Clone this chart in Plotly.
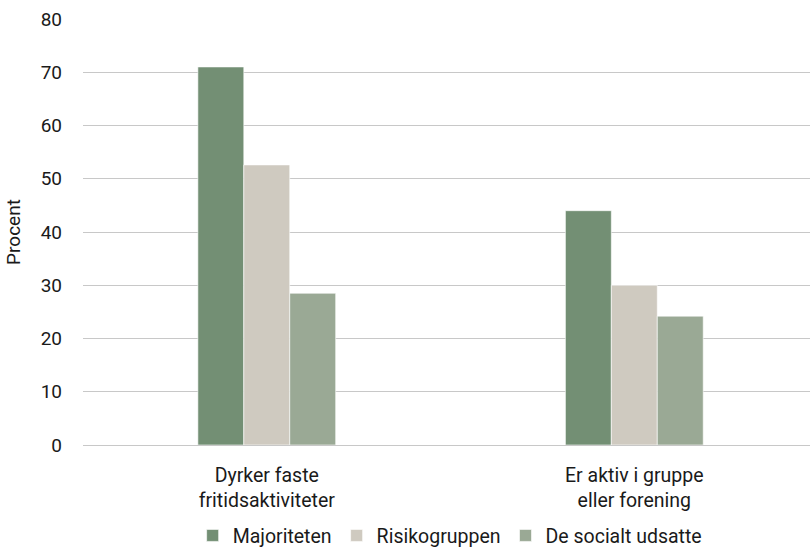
import plotly.graph_objects as go

categories = ["Dyrker faste<br>fritidsaktiviteter", "Er aktiv i gruppe<br>eller forening"]
majoriteten = [71, 44]
risikogruppen = [52.6, 30]
socialt_udsatte = [28.5, 24.2]

series = [
    ("Majoriteten", majoriteten, "#738f74"),
    ("Risikogruppen", risikogruppen, "#cfcac0"),
    ("De socialt udsatte", socialt_udsatte, "#9aa995"),
]

fig = go.Figure()
for name, vals, color in series:
    fig.add_trace(go.Bar(
        x=categories, y=vals, name=name,
        marker=dict(color=color, line=dict(color="rgba(255,255,255,0.6)", width=1)),
    ))

font_family = "Roboto, 'DejaVu Sans', sans-serif"
fig.update_layout(
    width=810, height=550,
    margin=dict(l=83, r=0, t=19, b=105, autoexpand=False),
    paper_bgcolor="white", plot_bgcolor="white",
    barmode="group", bargap=0.625, bargroupgap=0,
    font=dict(family=font_family, size=19, color="#1a1a1a"),
    showlegend=True,
    legend=dict(orientation="h", x=0.505, xanchor="center", y=-0.213, yanchor="middle",
                font=dict(size=19.5), itemwidth=30, traceorder="normal",
                tracegroupgap=0),
    xaxis=dict(range=[-0.5, 1.478], showgrid=False, showline=False, ticks="",
               tickfont=dict(size=19.5), ticklabelstandoff=16),
    yaxis=dict(range=[0, 80], dtick=10, showgrid=True, gridcolor="#c8c8c8", gridwidth=1,
               zeroline=True, zerolinecolor="#c8c8c8", zerolinewidth=1,
               ticks="", ticklabelstandoff=20, tickfont=dict(size=19),
               title=dict(text="Procent", standoff=14, font=dict(size=19))),
)

fig.write_html("out.html")
